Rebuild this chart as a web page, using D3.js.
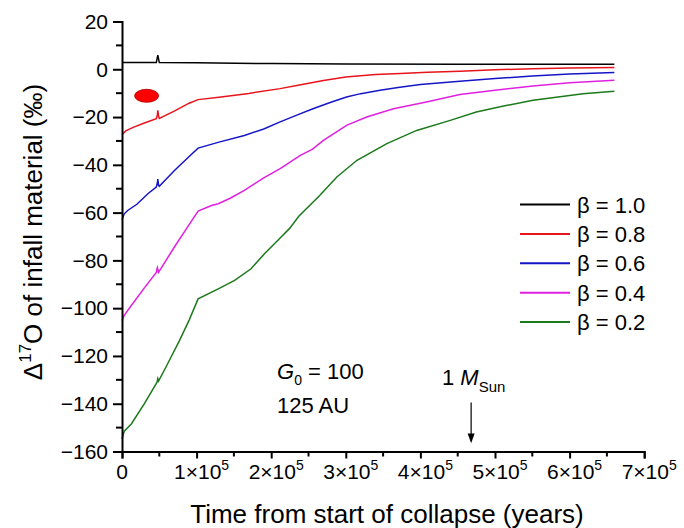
<!DOCTYPE html>
<html>
<head>
<meta charset="utf-8">
<script src="https://cdn.jsdelivr.net/npm/d3@7"></script>
<style>
  body { margin: 0; background: #fff; }
  svg text { font-family: Arial, "Liberation Sans", sans-serif; fill: #000; }
</style>
</head>
<body>
<div id="chart"></div>
<script>
// time in units of 1e5 years, delta-17O in permil
var beta10 = [[0, 2.8], [0.46, 2.8], [0.48, 5.9], [0.5, 2.8], [1.0, 2.7], [2.0, 2.4], [3.0, 2.2], [4.5, 2.1], [6.6, 2.1]];
var beta08 = [[0, -27.4], [0.05, -25.8], [0.15, -24.3], [0.3, -22.5], [0.46, -20.7], [0.475, -19], [0.48, -17.2], [0.49, -19.5],
  [0.5, -20.6], [0.7, -17.5], [0.9, -14.2], [1.02, -12.7], [1.3, -11.7], [1.7, -10.1], [2.12, -8.1], [2.36, -6.7], [2.7, -4.7],
  [3.0, -3.2], [3.4, -2.2], [3.73, -1.8], [4.1, -1.2], [4.53, -0.8], [5.0, -0.2], [5.5, 0.2], [6.0, 0.5], [6.6, 0.7]];
var beta06 = [[0, -63], [0.03, -60.5], [0.08, -59], [0.2, -56.5], [0.35, -52], [0.46, -49.3], [0.475, -47.5], [0.48, -46],
  [0.49, -48.5], [0.5, -49], [0.7, -42.5], [0.9, -36.5], [1.02, -33], [1.3, -30.5], [1.64, -27.7], [1.9, -25], [2.12, -22],
  [2.36, -19], [2.56, -16.5], [2.8, -13.8], [3.01, -11.6], [3.2, -10.2], [3.46, -8.8], [3.7, -7.6], [4.0, -6.4], [4.53, -5.0],
  [5.0, -3.9], [5.5, -2.8], [6.0, -2.0], [6.6, -1.4]];
var beta04 = [[0, -105.2], [0.03, -103], [0.125, -98.9], [0.3, -91.5], [0.46, -85], [0.47, -83.5], [0.475, -83], [0.49, -85],
  [0.5, -84.5], [0.7, -74.5], [0.9, -65], [1.02, -59.4], [1.2, -57], [1.29, -56.3], [1.45, -54], [1.64, -50.7], [1.9, -45.5],
  [2.12, -41.6], [2.39, -36], [2.55, -33.5], [2.7, -29.8], [3.01, -23.5], [3.28, -20], [3.64, -16.5], [4.08, -13.7],
  [4.53, -10.6], [5.0, -8.8], [5.51, -7], [6.0, -5.6], [6.6, -4.6]];
var beta02 = [[0, -154.8], [0.03, -151.5], [0.125, -148.5], [0.3, -140], [0.47, -131], [0.48, -129.5], [0.49, -130.5],
  [0.6, -124], [0.77, -113.6], [0.9, -105], [1.02, -96.1], [1.29, -91.9], [1.51, -88.4], [1.73, -83.5], [1.91, -77.2],
  [2.13, -70.3], [2.25, -66.5], [2.37, -61.5], [2.65, -52.8], [2.88, -45.1], [3.15, -38.1], [3.55, -31.1], [3.95, -25.6],
  [4.4, -21.4], [4.75, -17.9], [5.1, -15.5], [5.51, -13], [6.18, -10.2], [6.6, -9.2]];

var seriesLabels = ['\u03b2 = 1.0', '\u03b2 = 0.8', '\u03b2 = 0.6', '\u03b2 = 0.4', '\u03b2 = 0.2'];
var seriesData = [beta10, beta08, beta06, beta04, beta02];
var seriesColors = ['#000000', '#e8141b', '#1515c8', '#e020e0', '#1b7a1b'];

var xTicks = [0, 1, 2, 3, 4, 5, 6, 7];
var yTicks = [20, 0, -20, -40, -60, -80, -100, -120, -140, -160];

var width = 684, height = 528;

var svg = d3.select('#chart').append('svg')
  .attr('width', width)
  .attr('height', height);

var x = d3.scaleLinear().domain([0, 7]).range([122, 644.2]);
var y = d3.scaleLinear().domain([-160, 20]).range([451.5, 21.5]);

var line = d3.line()
  .x(function (d) { return x(d[0]); })
  .y(function (d) { return y(d[1]); });

// curves
svg.selectAll('path.series')
  .data(seriesData)
  .enter().append('path')
  .attr('class', 'series')
  .attr('d', line)
  .attr('fill', 'none')
  .attr('stroke', function (d, i) { return seriesColors[i]; })
  .attr('stroke-width', 1.5);

// y axis
var yAxis = d3.axisLeft(y)
  .tickValues(yTicks)
  .tickSize(9)
  .tickPadding(5)
  .tickFormat(function (d) { return d < 0 ? '\u2212' + Math.abs(d) : d; });
var gy = svg.append('g').attr('transform', 'translate(' + x(0) + ',0)').call(yAxis);
gy.select('.domain').attr('stroke-width', 2);
gy.selectAll('.tick line').attr('stroke-width', 2);
gy.selectAll('.tick text').style('font-size', '21px');

var yMinor = d3.range(-150, 20, 20);
svg.selectAll('line.yminor')
  .data(yMinor)
  .enter().append('line')
  .attr('x1', x(0) - 6).attr('x2', x(0))
  .attr('y1', function (d) { return y(d); })
  .attr('y2', function (d) { return y(d); })
  .attr('stroke', '#000').attr('stroke-width', 2);

// x axis
var xAxis = d3.axisBottom(x)
  .tickValues(xTicks)
  .tickSize(7)
  .tickFormat('');
var gx = svg.append('g').attr('transform', 'translate(0,' + y(-160) + ')').call(xAxis);
gx.select('.domain').attr('stroke-width', 2);
gx.selectAll('.tick line').attr('stroke-width', 2);

var xMinor = d3.range(0.5, 7, 1);
svg.selectAll('line.xminor')
  .data(xMinor)
  .enter().append('line')
  .attr('x1', function (d) { return x(d); })
  .attr('x2', function (d) { return x(d); })
  .attr('y1', y(-160)).attr('y2', y(-160) + 5)
  .attr('stroke', '#000').attr('stroke-width', 2);

// x tick labels like 1×10^5 (the "N×10" part is centred on the tick)
var xl = svg.selectAll('text.xlab')
  .data(xTicks)
  .enter().append('text')
  .attr('class', 'xlab')
  .attr('x', function (d) { return d === 0 ? x(d) : x(d) + 5; })
  .attr('y', y(-160) + 27)
  .attr('text-anchor', 'middle')
  .style('font-size', '21px');
xl.each(function (d) {
  var t = d3.select(this);
  if (d === 0) { t.text('0'); return; }
  t.append('tspan').text(d + '\u00d710');
  t.append('tspan').attr('dy', -9).style('font-size', '14px').text('5');
});

// axis titles
svg.append('text')
  .attr('x', 387)
  .attr('y', 523)
  .attr('text-anchor', 'middle')
  .style('font-size', '26px')
  .text('Time from start of collapse (years)');

var yt = svg.append('text')
  .attr('transform', 'translate(42,232) rotate(-90)')
  .attr('text-anchor', 'middle')
  .style('font-size', '26px');
yt.append('tspan').text('\u0394');
yt.append('tspan').attr('dy', -11).style('font-size', '17px').text('17');
yt.append('tspan').attr('dy', 11).text('O of infall material (\u2030)');

// legend
var legend = svg.selectAll('g.legend')
  .data(seriesLabels)
  .enter().append('g')
  .attr('class', 'legend')
  .attr('transform', function (d, i) { return 'translate(520,' + (204.5 + i * 29.4) + ')'; });
legend.append('line')
  .attr('x1', 0).attr('x2', 50)
  .attr('stroke', function (d, i) { return seriesColors[i]; })
  .attr('stroke-width', 2);
legend.append('text')
  .attr('x', 57)
  .attr('y', 8)
  .style('font-size', '22px')
  .text(function (d) { return d; });

// annotations
var g0 = svg.append('text').attr('x', 277).attr('y', 379).style('font-size', '22px');
g0.append('tspan').style('font-style', 'italic').text('G');
g0.append('tspan').attr('dy', 6).style('font-size', '14px').text('0');
g0.append('tspan').attr('dy', -6).text(' = 100');
svg.append('text').attr('x', 277).attr('y', 413).style('font-size', '22px').text('125 AU');

var ms = svg.append('text').attr('x', 442).attr('y', 385).style('font-size', '22px');
ms.append('tspan').text('1 ');
ms.append('tspan').style('font-style', 'italic').text('M');
ms.append('tspan').attr('dy', 7).style('font-size', '15px').text('Sun');

var arrowX = 4.68;
svg.append('line')
  .attr('x1', x(arrowX)).attr('x2', x(arrowX))
  .attr('y1', y(-139.5)).attr('y2', y(-153))
  .attr('stroke', '#000').attr('stroke-width', 1.2);
svg.append('path')
  .attr('d', 'M' + (x(arrowX) - 3.5) + ',' + y(-152.5) + 'L' + (x(arrowX) + 3.5) + ',' + y(-152.5) + 'L' + x(arrowX) + ',' + y(-156.5) + 'Z')
  .attr('fill', '#000');

// red marker
svg.append('ellipse')
  .attr('cx', x(0.33)).attr('cy', y(-11.1))
  .attr('rx', 12).attr('ry', 6.5)
  .attr('fill', '#ff0000')
  .attr('stroke', '#b00000')
  .attr('stroke-width', 0.8);
</script>
</body>
</html>
